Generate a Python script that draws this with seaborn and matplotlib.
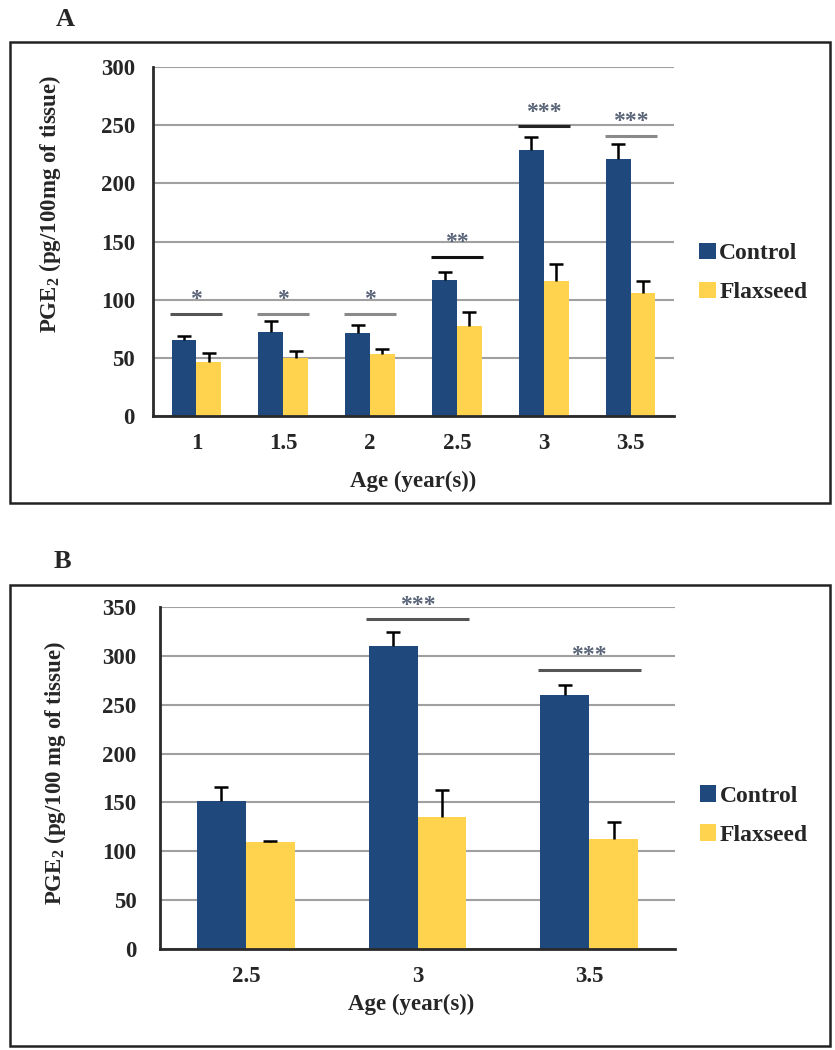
import matplotlib.pyplot as plt
import matplotlib.patches as mpatches
import numpy as np
import pandas as pd
import seaborn as sns

# panel A
ages_a = ['1', '1.5', '2', '2.5', '3', '3.5']
control_a = [65, 72, 71, 117, 229, 221]
control_a_err = [4, 10, 7, 7, 11, 13]
flax_a = [46, 50, 53, 77, 116, 106]
flax_a_err = [8, 6, 5, 12, 15, 10]
sig_a_cats = ['1', '1.5', '2', '2.5', '3', '3.5']
sig_a_level = [88, 88, 88, 137, 249, 241]
sig_a_stars = ['*', '*', '*', '**', '***', '***']
sig_a_colors = ['#555555', '#8a8a8a', '#8a8a8a', '#111111', '#222222', '#8a8a8a']

# panel B
ages_b = ['2.5', '3', '3.5']
control_b = [151, 310, 260]
control_b_err = [15, 14, 10]
flax_b = [109, 135, 113]
flax_b_err = [1.5, 28, 17]
sig_b_cats = ['3', '3.5']
sig_b_level = [338, 286]
sig_b_stars = ['***', '***']
sig_b_colors = ['#555555', '#555555']

groups = ['Control', 'Flaxseed']
colors = {'Control': '#1f497d', 'Flaxseed': '#ffd34e'}

sns.set_style('white')
plt.rcParams['font.family'] = ['Liberation Serif', 'DejaVu Serif']
plt.rcParams['font.weight'] = 'bold'
plt.rcParams['axes.labelweight'] = 'bold'
plt.rcParams['mathtext.fontset'] = 'custom'
plt.rcParams['mathtext.rm'] = 'Liberation Serif:bold'
plt.rcParams['mathtext.bf'] = 'Liberation Serif:bold'


def make_df(ages, ctrl, flax):
    return pd.DataFrame({
        'age': ages * 2,
        'value': ctrl + flax,
        'group': ['Control'] * len(ages) + ['Flaxseed'] * len(ages),
    })


def draw_panel(ax, ages, ctrl, ctrl_err, flax, flax_err, ymax,
               sig_cats, sig_lvls, sig_stars, sig_cols, ylabel, ypad):
    df = make_df(ages, ctrl, flax)
    sns.barplot(data=df, x='age', y='value', hue='group', order=ages, hue_order=groups,
                palette=colors, width=0.57, saturation=1, errorbar=None, linewidth=0,
                ax=ax, zorder=2)

    for cont, err in zip(ax.containers, [ctrl_err, flax_err]):
        xs = [b.get_x() + b.get_width() / 2 for b in cont]
        ys = [b.get_height() for b in cont]
        eb = ax.errorbar(xs, ys, yerr=[[0] * len(err), err], fmt='none', ecolor='black',
                         elinewidth=1.8, capsize=5, capthick=1.8, zorder=3)
        # only the upper cap is shown
        eb[1][0].set_visible(False)

    for cat, lvl, st, col in zip(sig_cats, sig_lvls, sig_stars, sig_cols):
        i = ages.index(cat)
        ax.plot([i - 0.3, i + 0.3], [lvl, lvl], color=col, lw=2.2, zorder=3,
                solid_capstyle='butt')
        ax.text(i, lvl + ymax * 0.04, st, ha='center', va='center', fontsize=17,
                color='#5a6478')

    n = len(ages)
    ax.set_xlim(-0.5, n - 0.5)
    ax.set_ylim(0, ymax)
    ax.set_yticks(np.arange(0, ymax + 1, 50))
    ax.set_xticks(np.arange(n + 1) - 0.5, minor=True)
    ax.tick_params(axis='x', which='major', length=0, pad=12, labelsize=16.5)
    ax.tick_params(axis='x', which='minor', length=6, width=1.6, direction='out', color='#222222')
    ax.tick_params(axis='y', length=6, width=1.6, direction='out', color='#222222',
                   labelsize=16.5, pad=ypad)
    ax.yaxis.grid(True, color='#a0a0a0', lw=1.5, zorder=0)
    ax.set_axisbelow(True)
    for s in ['top', 'right']:
        ax.spines[s].set_visible(False)
    for s in ['left', 'bottom']:
        ax.spines[s].set_color('#2a2a2a')
        ax.spines[s].set_linewidth(2)

    ax.set_xlabel('Age (year(s))', fontsize=16.5)
    ax.set_ylabel(ylabel, fontsize=16.5)

    leg = ax.legend(loc='center left', frameon=False, fontsize=17,
                    handlelength=0.7, handleheight=0.7, handletextpad=0.15,
                    labelspacing=0.75, borderaxespad=0)
    return leg


fig = plt.figure(figsize=(8.35, 10.5), dpi=100)

ax_a = fig.add_axes([0.1832, 0.6038, 0.624, 0.3324])
leg = draw_panel(ax_a, ages_a, control_a, control_a_err, flax_a, flax_a_err, 300,
                 sig_a_cats, sig_a_level, sig_a_stars, sig_a_colors,
                 'PGE$_2$ (pg/100mg of tissue)', 7)
leg.set_bbox_to_anchor((1.03, 0.41))
ax_a.yaxis.set_label_coords(-0.172, 0.607)
ax_a.xaxis.set_label_coords(0.5, -0.158)

ax_b = fig.add_axes([0.1916, 0.0962, 0.6168, 0.3257])
leg = draw_panel(ax_b, ages_b, control_b, control_b_err, flax_b, flax_b_err, 350,
                 sig_b_cats, sig_b_level, sig_b_stars, sig_b_colors,
                 'PGE$_2$ (pg/100 mg of tissue)', 11)
leg.set_bbox_to_anchor((1.03, 0.39))
ax_b.yaxis.set_label_coords(-0.178, 0.515)
ax_b.xaxis.set_label_coords(0.487, -0.132)

# panel frames
for bottom in [0.521, 0.0038]:
    fig.patches.append(mpatches.Rectangle((0.012, bottom), 0.982, 0.439, transform=fig.transFigure,
                                          fill=False, edgecolor='#222222', lw=1.8))

fig.text(0.078, 0.981, 'A', fontsize=19, ha='center', va='center')
fig.text(0.075, 0.465, 'B', fontsize=19, ha='center', va='center')

fig.savefig('out.png', dpi=100)
